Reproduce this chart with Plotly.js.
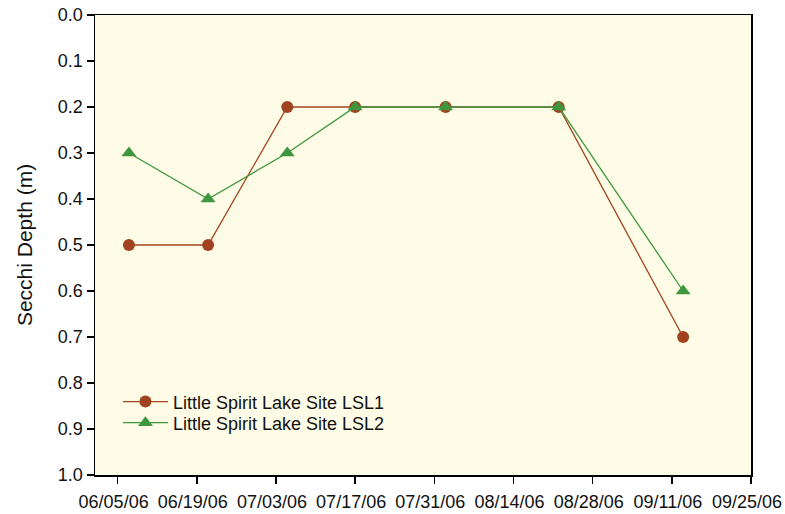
<!DOCTYPE html>
<html>
<head>
<meta charset="utf-8">
<script src="https://cdn.plot.ly/plotly-3.0.1.min.js"></script>
<style>html,body{margin:0;padding:0;background:#fff;}#chart{width:785px;height:514px;}</style>
</head>
<body>
<div id="chart"></div>
<script>
const dates = ["2006-06-07","2006-06-21","2006-07-05","2006-07-17","2006-08-02","2006-08-22","2006-09-13"];
const lsl1 = [0.5, 0.5, 0.2, 0.2, 0.2, 0.2, 0.7];
const lsl2 = [0.3, 0.4, 0.3, 0.2, 0.2, 0.2, 0.6];
const seriesNames = ["Little Spirit Lake Site LSL1", "Little Spirit Lake Site LSL2"];
const tickDates = ["2006-06-05","2006-06-19","2006-07-03","2006-07-17","2006-07-31","2006-08-14","2006-08-28","2006-09-11","2006-09-25"];
const tickLabels = ["06/05/06","06/19/06","07/03/06","07/17/06","07/31/06","08/14/06","08/28/06","09/11/06","09/25/06"];
const yTicks = [0,0.1,0.2,0.3,0.4,0.5,0.6,0.7,0.8,0.9,1.0];
const yTickLabels = ["0.0","0.1","0.2","0.3","0.4","0.5","0.6","0.7","0.8","0.9","1.0"];

const red = "#A2431F", green = "#3E963E";
const traces = [
  {x: dates, y: lsl1, name: seriesNames[0], type: "scatter", mode: "lines+markers", legend: "legend",
   line: {color: red, width: 1.3}, marker: {symbol: "circle", size: 12, color: red}},
  {x: dates, y: lsl2, name: seriesNames[1], type: "scatter", mode: "lines+markers", legend: "legend2",
   line: {color: green, width: 1.3}, marker: {symbol: "triangle-up", size: 13, color: green}}
];
const fam = "Liberation Sans, Arial, sans-serif";
const font = {family: fam, size: 18, color: "#111"};
const legBase = {x: 0.035, xanchor: "left", yanchor: "middle", bgcolor: "rgba(0,0,0,0)",
                 itemwidth: 45, font: {family: fam, size: 18, color: "#111"}};
const layout = {
  width: 785, height: 514,
  margin: {l: 95, r: 34, t: 15, b: 39},
  paper_bgcolor: "#ffffff",
  plot_bgcolor: "#FEFCE6",
  font: font,
  showlegend: true,
  legend: Object.assign({}, legBase, {y: 0.159}),
  legend2: Object.assign({}, legBase, {y: 0.113}),
  xaxis: {type: "date", range: ["2006-06-01", "2006-09-25"],
          tickmode: "array", tickvals: tickDates, ticktext: tickLabels,
          ticks: "outside", ticklen: 7, tickwidth: 1.5, tickcolor: "#000",
          ticklabeloverflow: "allow", ticklabelshift: -4, ticklabelstandoff: 3,
          showline: true, linecolor: "#000", linewidth: 1.5, mirror: true,
          showgrid: false, zeroline: false, tickfont: font},
  yaxis: {range: [1.0, 0.0], tickmode: "array", tickvals: yTicks, ticktext: yTickLabels,
          ticks: "outside", ticklen: 7, tickwidth: 1.5, tickcolor: "#000",
          showline: true, linecolor: "#000", linewidth: 1.5, mirror: true,
          showgrid: false, zeroline: false, tickfont: font,
          title: {text: "Secchi Depth (m)", font: {family: fam, size: 21, color: "#111"}, standoff: 19}}
};
Plotly.newPlot("chart", traces, layout, {displayModeBar: false, staticPlot: true});
</script>
</body>
</html>
